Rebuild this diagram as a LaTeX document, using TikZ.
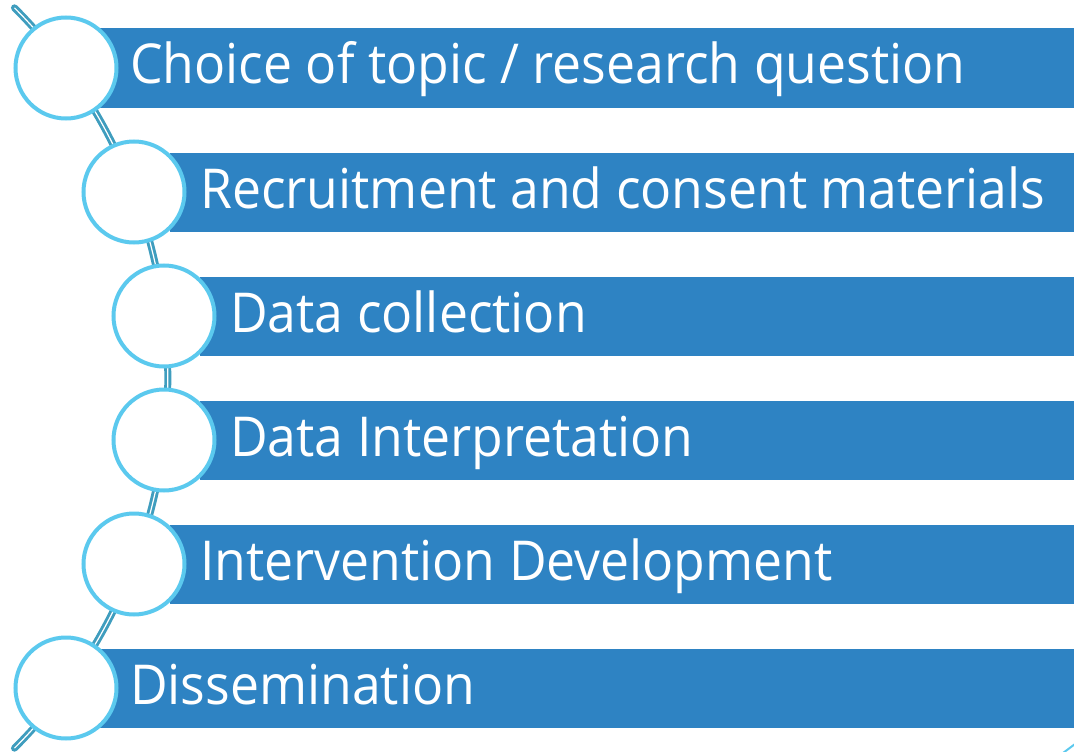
\documentclass[tikz,border=0pt]{standalone}
\usepackage{fontspec}
\setmainfont[FakeStretch=0.94]{Open Sans}
\usetikzlibrary{calc}
\definecolor{barblue}{HTML}{2E83C3}
\definecolor{ringblue}{HTML}{5BC9EE}
\definecolor{spine}{HTML}{3F9DBE}
\begin{document}
\begin{tikzpicture}[x=1pt,y=-1pt,
  bar/.style={fill=barblue, draw=none},
  ring/.style={circle, draw=ringblue, line width=4pt, fill=white, minimum size=101pt, inner sep=0pt},
  label/.style={anchor=base west, text=white, font=\fontsize{55}{60}\selectfont, inner sep=0pt},
  spineline/.style={draw=spine, line width=7pt, line cap=round}]
\useasboundingbox (0,0) rectangle (1074,752);
% curved spine behind the rings
\coordinate (ctr) at (-355.7,378);
\draw[spineline] ($(ctr)+(45:523.5)$) arc[start angle=45, end angle=-45, radius=523.5];
\draw[white, line width=1.2pt] ($(ctr)+(45:523.5)$) arc[start angle=45, end angle=-45, radius=523.5];
% bars
\foreach \i/\bx/\cx/\txt in {
  0/100/66/{Choice of topic / research question},
  1/170/134/{Recruitment and consent materials},
  2/200/164/{Data collection},
  3/200/164/{Data Interpretation},
  4/170/134/{Intervention Development},
  5/100/66/{Dissemination}} {
  \pgfmathsetmacro{\cy}{68+124*\i}
  \fill[bar] (\bx,\cy-39.5) rectangle (1074,\cy+39.5);
  \node[label] (t\i) at (\bx+30,\cy+16) {\txt};
  \node[ring] (c\i) at (\cx,\cy) {};
}
% small mark at the lower right corner
\draw[ringblue, line width=2pt] (1063,753) -- (1075,744);
\end{tikzpicture}
\end{document}
